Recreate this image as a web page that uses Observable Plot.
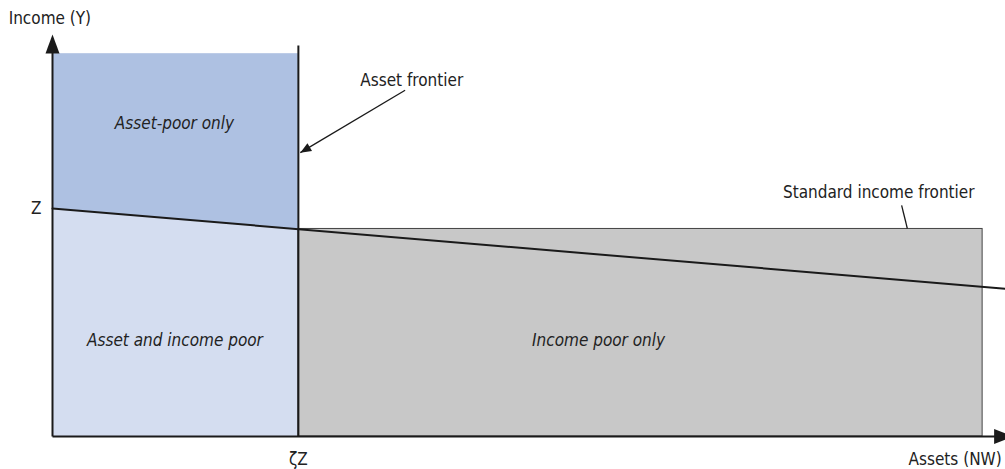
<!DOCTYPE html>
<html><head><meta charset="utf-8">
<script src="https://cdn.jsdelivr.net/npm/d3@7"></script>
<script src="https://cdn.jsdelivr.net/npm/@observablehq/plot@0.6"></script>
<style>body{margin:0;background:#fff} svg{display:block}</style>
</head><body><div id="chart"></div>
<script>
// Chart units: assets (x) 0–100, income (y) 0–100
const assetThreshold = 25.8;      // ζZ
const incomeThreshold = 52.3;     // Z
const frontierX = [0, 100];
const frontierY = [52.3, 33.9];   // standard income frontier
const chartTopY = 87.8;           // top of "Asset-poor only" region
const assetFrontierTop = 89.7;
const incomePoorRight = 97.6;     // right edge of "Income poor only" region
const incomePoorTop = 47.6;
const axisXEnd = 100.8;
const axisYEnd = 92.2;

const regionNames = ["Asset-poor only", "Asset and income poor", "Income poor only"];
const regionLabelX = [12.8, 12.85, 57.3];
const regionLabelY = [71.8, 22.0, 22.0];

const axisLabels = ["Income (Y)", "Z", "ζZ", "Assets (NW)"];
const axisLabelX = [-4.6, -1.7, 25.8, 99.6];
const axisLabelY = [95.9, 52.3, -5.3, -5.3];
const axisLabelAnchor = ["start", "middle", "middle", "end"];

const calloutNames = ["Asset frontier", "Standard income frontier"];
const calloutLabelX = [37.7, 86.7];
const calloutLabelY = [81.7, 56.0];
const calloutFromX = [37.0, 89.1];
const calloutFromY = [79.4, 53.0];
const calloutToX = [26.0, 89.7];
const calloutToY = [65.1, 47.7];

const FONT = '"DejaVu Sans Condensed","Liberation Sans Narrow",sans-serif';
const INK = "#1a1a1a";
const TXT = "#222";
const FS = 17;

const tri = {
  draw(ctx, l, r) {
    ctx.moveTo(0, -l);
    ctx.lineTo(-r, 0);
    ctx.lineTo(r, 0);
    ctx.closePath();
  }
};

const frontier = frontierX.map((x, i) => ({x, y: frontierY[i]}));
const lowerLeft = [
  {x: 0, y: incomeThreshold},
  {x: assetThreshold, y: frontierY[0] + (frontierY[1] - frontierY[0]) * (assetThreshold - frontierX[0]) / (frontierX[1] - frontierX[0])}
];
const regions = regionNames.map((name, i) => ({name, x: regionLabelX[i], y: regionLabelY[i]}));
const axisText = axisLabels.map((t, i) => ({t, x: axisLabelX[i], y: axisLabelY[i], a: axisLabelAnchor[i]}));
const callouts = calloutNames.map((t, i) => ({t, x: calloutLabelX[i], y: calloutLabelY[i],
  x1: calloutFromX[i], y1: calloutFromY[i], x2: calloutToX[i], y2: calloutToY[i]}));

const axisTextMarks = ["start", "middle", "end"].map(a =>
  Plot.text(axisText.filter(d => d.a === a), {x: "x", y: "y", text: "t", textAnchor: a, fontSize: FS, fill: TXT}));

const chart = Plot.plot({
  width: 1005, height: 469,
  marginLeft: 52, marginRight: 0, marginTop: 0, marginBottom: 33,
  x: {domain: [0, 100], axis: null},
  y: {domain: [0, 100], axis: null},
  style: {fontFamily: FONT, background: "#fff", overflow: "visible"},
  marks: [
    Plot.rect([0], {x1: 0, x2: assetThreshold, y1: 0, y2: chartTopY, fill: "#aec1e2"}),
    Plot.areaY(lowerLeft, {x: "x", y1: 0, y2: "y", fill: "#d4ddf0"}),
    Plot.rect([0], {x1: assetThreshold, x2: incomePoorRight, y1: 0, y2: incomePoorTop, fill: "#c8c8c8", stroke: "#444", strokeWidth: 1}),
    Plot.link([0], {x1: 0, y1: 0, x2: 0, y2: axisYEnd - 2, stroke: INK, strokeWidth: 2}),
    Plot.link([0], {x1: 0, y1: 0, x2: axisXEnd - 1, y2: 0, stroke: INK, strokeWidth: 2}),
    Plot.link([0], {x1: assetThreshold, y1: 0, x2: assetThreshold, y2: assetFrontierTop, stroke: INK, strokeWidth: 2}),
    Plot.line(frontier, {x: "x", y: "y", stroke: INK, strokeWidth: 2}),
    Plot.link(callouts, {x1: "x1", y1: "y1", x2: "x2", y2: "y2", stroke: INK, strokeWidth: 1.3}),
    Plot.vector([0], {x: 0, y: axisYEnd, anchor: "end", length: 19, r: 7, rotate: 0, shape: tri, fill: INK, stroke: "none"}),
    Plot.vector([0], {x: axisXEnd, y: 0, anchor: "end", length: 19, r: 7.5, rotate: 90, shape: tri, fill: INK, stroke: "none"}),
    Plot.vector([callouts[0]], {x: "x2", y: "y2", anchor: "end", length: 11, r: 4.5, rotate: -120.6, shape: tri, fill: INK, stroke: "none"}),
    Plot.text(regions, {x: "x", y: "y", text: "name", fontSize: FS, fontStyle: "italic", fill: TXT}),
    ...axisTextMarks,
    Plot.text(callouts, {x: "x", y: "y", text: "t", fontSize: FS, fill: TXT})
  ]
});
document.getElementById("chart").append(chart);
</script></body></html>
